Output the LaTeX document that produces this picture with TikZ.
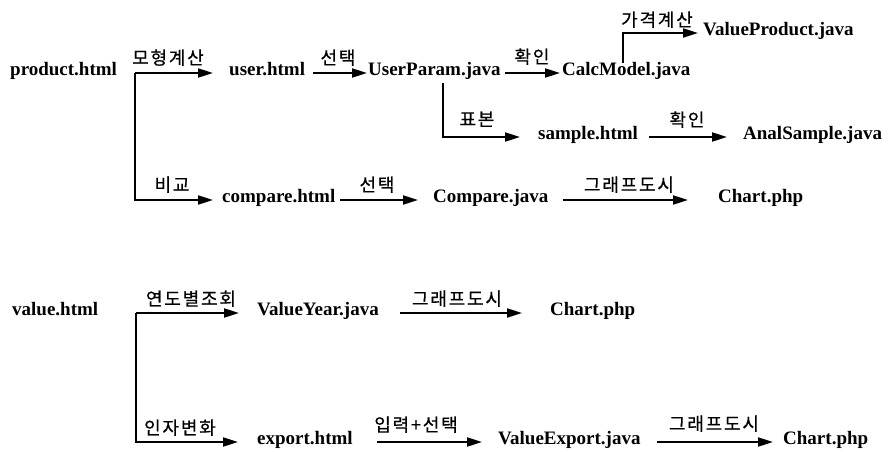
\documentclass[tikz,border=0pt]{standalone}
\usepackage{fontspec}
\setmainfont{Liberation Serif}
\newfontfamily\kr{Noto Sans CJK KR}[LetterSpace=10,FakeBold=0.6]
\usetikzlibrary{arrows.meta}
\begin{document}
\begin{tikzpicture}[x=1pt,y=-1pt,
  file/.style={anchor=west, inner sep=0pt, text height=0.7em, text depth=0.2em,
    font=\fontsize{19}{22}\selectfont\bfseries},
  lbl/.style={anchor=south, inner sep=0pt, font=\kr\fontsize{18}{20}\selectfont},
  flow/.style={line width=2pt, -{Triangle[length=15pt,width=9pt]}}]
\useasboundingbox (0,0) rectangle (894,452);

% pages and scripts
\node[file] (prod)    at (10,73)   {product.html};
\node[file] (user)    at (229,73)  {user.html};
\node[file] (uparam)  at (368,73)  {UserParam.java};
\node[file] (calc)    at (562,73)  {CalcModel.java};
\node[file] (vprod)   at (703,33)  {ValueProduct.java};
\node[file] (sample)  at (538,137) {sample.html};
\node[file] (anal)    at (743,137) {AnalSample.java};
\node[file] (compare) at (222,200) {compare.html};
\node[file] (cmpj)    at (433,200) {Compare.java};
\node[file] (chartA)  at (718,200) {Chart.php};
\node[file] (value)   at (12,313)  {value.html};
\node[file] (vyear)   at (257,313) {ValueYear.java};
\node[file] (chartB)  at (550,313) {Chart.php};
\node[file] (export)  at (257,442) {export.html};
\node[file] (vexp)    at (498,442) {ValueExport.java};
\node[file] (chartC)  at (783,442) {Chart.php};

% branch points
\coordinate (pj) at (135,73);
\coordinate (ub) at (443,83);
\coordinate (cb) at (623,63);
\coordinate (vj) at (136,313);

% connectors
\draw[flow, shorten >=16pt] (pj) -- (user.west);
\draw[flow, shorten >=9pt] (pj) |- (compare.west);
\draw[flow, shorten <=8pt, shorten >=1pt] (user.east) -- (uparam.west);
\draw[flow, shorten <=4pt, shorten >=2pt] (uparam.east) -- (calc.west);
\draw[flow, shorten >=5pt] (cb) |- (vprod.west);
\draw[flow, shorten >=18pt] (ub) |- (sample.west);
\draw[flow, shorten <=11pt, shorten >=16pt] (sample.east) -- (anal.west);
\draw[flow, shorten <=4pt, shorten >=15pt] (compare.east) -- (cmpj.west);
\draw[flow, shorten <=14pt, shorten >=30pt] (cmpj.east) -- (chartA.west);
\draw[flow, shorten >=18pt] (vj) -- (vyear.west);
\draw[flow, shorten >=19pt] (vj) |- (export.west);
\draw[flow, shorten <=21pt, shorten >=28pt] (vyear.east) -- (chartB.west);
\draw[flow, shorten <=24pt, shorten >=16pt] (export.east) -- (vexp.west);
\draw[flow, shorten <=16pt, shorten >=10pt] (vexp.east) -- (chartC.west);

% connector labels
\node[lbl] (l1)  at (168,66)  {모형계산};
\node[lbl] (l2)  at (338,66)  {선택};
\node[lbl] (l3)  at (532,65)  {확인};
\node[lbl] (l4)  at (657,28)  {가격계산};
\node[lbl] (l5)  at (477,127) {표본};
\node[lbl] (l6)  at (687,128) {확인};
\node[lbl] (l7)  at (172,193) {비교};
\node[lbl] (l8)  at (377,193) {선택};
\node[lbl] (l9)  at (629,193) {그래프도시};
\node[lbl] (l10) at (191,307) {연도별조회};
\node[lbl] (l11) at (457,307) {그래프도시};
\node[lbl] (l12) at (180,436) {인자변화};
\node[lbl] (l13) at (416,433) {입력+선택};
\node[lbl] (l14) at (714,432) {그래프도시};
\end{tikzpicture}
\end{document}
